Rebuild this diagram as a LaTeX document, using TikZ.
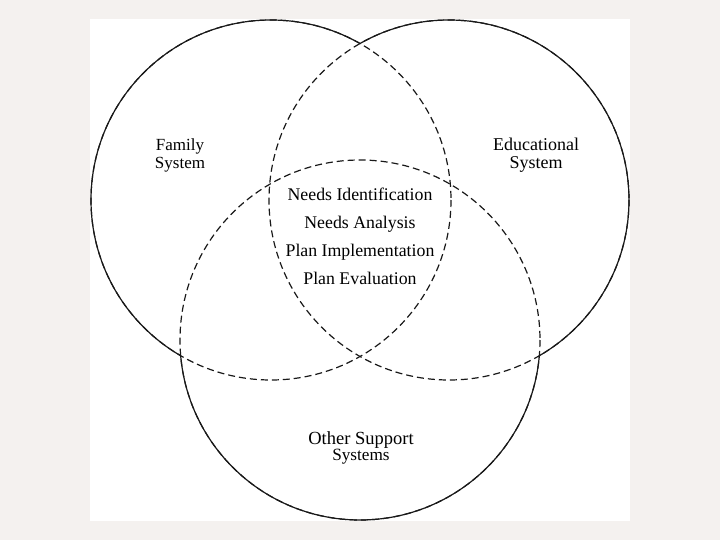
\documentclass[tikz,border=0pt]{standalone}
\usepackage{fontspec}
\setmainfont{Liberation Serif}
\definecolor{bgout}{HTML}{F4F1EF}
\tikzset{
  ring/.style={line width=1.2pt, draw=black!90},
  dashring/.style={ring, dash pattern=on 7pt off 4pt},
  lbl/.style={align=center, inner sep=0pt, font=\fontsize{17}{18}\selectfont},
  midlbl/.style={align=center, inner sep=0pt, font=\fontsize{17.8}{28}\selectfont},
}
\begin{document}
\begin{tikzpicture}[x=1pt,y=-1pt]
\useasboundingbox (0,0) rectangle (720,540);
\fill[bgout] (0,0) rectangle (720,540);
\fill[white] (90,19) rectangle (630,521);
\coordinate (F) at (271,200);
\coordinate (E) at (449,200);
\coordinate (O) at (360,340);
\def\R{180}
% dashed full circles
\draw[dashring] (F) circle[radius=\R];
\draw[dashring] (E) circle[radius=\R];
\draw[dashring] (O) circle[radius=\R];
% solid parts: outside the two other circles
\begin{scope}[even odd rule]
  \clip (0,0) rectangle (720,540) ([xshift=\R pt]E) arc[start angle=0,end angle=-360,radius=\R];
  \clip (0,0) rectangle (720,540) ([xshift=\R pt]O) arc[start angle=0,end angle=-360,radius=\R];
  \draw[ring] (F) circle[radius=\R];
\end{scope}
\begin{scope}[even odd rule]
  \clip (0,0) rectangle (720,540) ([xshift=\R pt]F) arc[start angle=0,end angle=-360,radius=\R];
  \clip (0,0) rectangle (720,540) ([xshift=\R pt]O) arc[start angle=0,end angle=-360,radius=\R];
  \draw[ring] (E) circle[radius=\R];
\end{scope}
\begin{scope}[even odd rule]
  \clip (0,0) rectangle (720,540) ([xshift=\R pt]F) arc[start angle=0,end angle=-360,radius=\R];
  \clip (0,0) rectangle (720,540) ([xshift=\R pt]E) arc[start angle=0,end angle=-360,radius=\R];
  \draw[ring] (O) circle[radius=\R];
\end{scope}
% labels
\node[lbl] (fam) at (180,155) {Family\\System};
\node[lbl, font=\fontsize{18}{18}\selectfont] (edu) at (536,155) {Educational\\System};
\node[midlbl] (mid) at (360,236) {Needs Identification\\Needs Analysis\\Plan Implementation\\Plan Evaluation};
\node[align=center, inner sep=0pt] (oth) at (361,448) {{\fontsize{18.5}{18}\selectfont Other Support}\\{\fontsize{17.2}{18}\selectfont Systems}};
\end{tikzpicture}
\end{document}
